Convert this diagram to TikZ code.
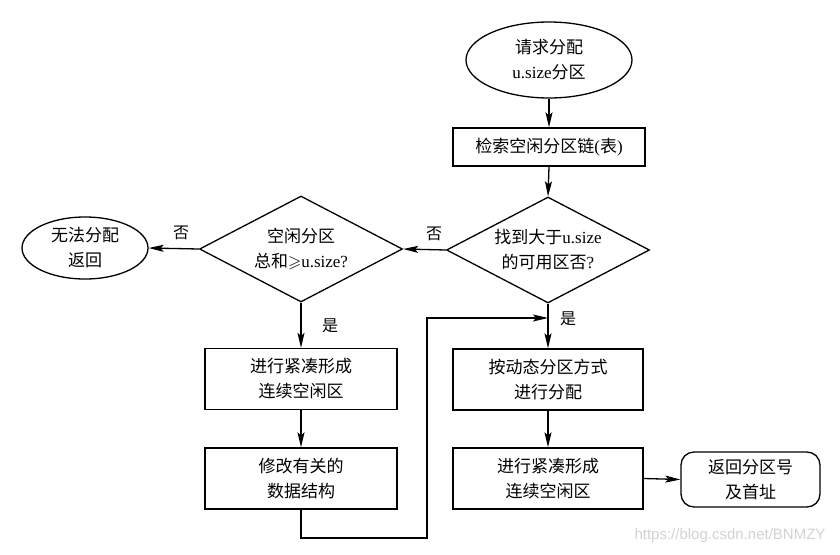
\documentclass[tikz,border=0pt]{standalone}
\usepackage{amssymb}
\usepackage{fontspec}
\setmainfont{Liberation Serif}
\newfontfamily\cjk{Noto Sans CJK SC}
\newfontfamily\wmfont{Liberation Sans}
\usetikzlibrary{shapes.geometric,arrows.meta}
\newcommand\zh[1]{{\cjk #1}}
\tikzset{
  base/.style={draw, line width=1.3pt, inner sep=0pt, align=center,
    font=\fontsize{17}{25}\selectfont},
  procbox/.style={base, rectangle, minimum width=#1, minimum height=61pt},
  oval/.style={base, ellipse},
  decis/.style={base, diamond, minimum width=203pt, minimum height=106pt},
  txt/.style={inner sep=0pt, align=center, font=\fontsize{17}{25}\selectfont},
  arr/.style={line width=1.3pt, -{Stealth[length=15pt,width=7pt,inset=3pt]}},
  lab/.style={inner sep=0pt, font=\cjk\fontsize{16}{18}\selectfont}
}
\begin{document}
\begin{tikzpicture}[x=1pt,y=-1pt]
\useasboundingbox (0,0) rectangle (840,554);
% nodes
\node[oval, minimum width=166pt, minimum height=76pt] (start) at (549,60) {\zh{请求分配}\\u.size\zh{分区}};
\node[procbox=192pt, minimum height=38pt] (search) at (549,147) {\zh{检索空闲分区链}(\zh{表})};
\node[decis] (d1) at (548,250) {};
\node[txt] (d1t) at (548,250) {\zh{找到大于}u.size\\\zh{的可用区否}?};
\node[decis] (d2) at (301,249) {};
\node[txt] (d2t) at (301,249) {\zh{空闲分区}\\\zh{总和}$\geqslant$u.size?};
\node[oval, minimum width=126pt, minimum height=62pt] (fail) at (85,248) {\zh{无法分配}\\\zh{返回}};
\node[procbox=192pt] (lb1) at (301,379) {\zh{进行紧凑形成}\\\zh{连续空闲区}};
\node[procbox=192pt] (lb2) at (301,478.5) {\zh{修改有关的}\\\zh{数据结构}};
\node[procbox=190pt] (rb1) at (548,379.5) {\zh{按动态分区方式}\\\zh{进行分配}};
\node[procbox=190pt] (rb2) at (548,478.5) {\zh{进行紧凑形成}\\\zh{连续空闲区}};
\node[base, rectangle, rounded corners=13pt, minimum width=139pt, minimum height=55pt] (ret) at (750.5,479.5) {\zh{返回分区号}\\\zh{及首址}};
% connectors
\draw[arr] (start.south) -- (search.north);
\draw[arr] (search.south) -- (d1.north);
\draw[arr] (d1.west) -- (d2.east);
\draw[arr] (d2.west) -- (fail.east);
\draw[arr] (d2.south) -- (lb1.north);
\draw[arr] (lb1.south) -- (lb2.north);
\draw[arr] (d1.south) -- (rb1.north);
\draw[arr] (rb1.south) -- (rb2.north);
\draw[arr] (rb2.east) -- (ret.west);
\coordinate (lp) at (427,538);
\coordinate (merge) at (548,318);
\draw[arr] (lb2.south) |- (lp) |- (merge);
% labels
\node[lab] (no1) at (434,234) {否};
\node[lab] (no2) at (181,233) {否};
\node[lab] (yes1) at (330,326) {是};
\node[lab] (yes2) at (568,319) {是};
% watermark
\node[inner sep=0pt, text=gray!35, font=\wmfont\fontsize{15}{16}\selectfont] (wm) at (730,536) {https://blog.csdn.net/BNMZY};
\end{tikzpicture}
\end{document}
